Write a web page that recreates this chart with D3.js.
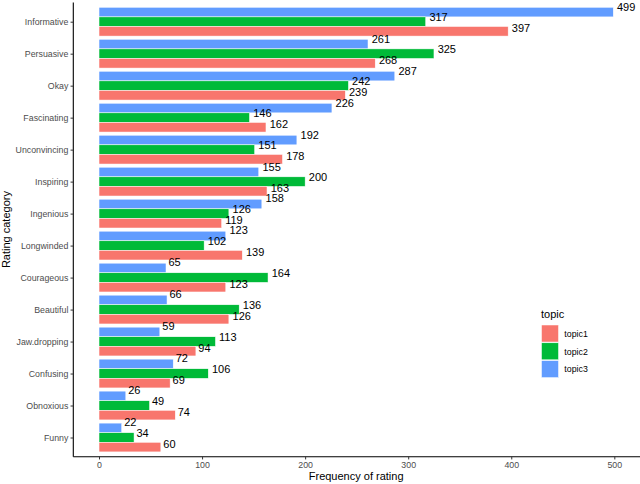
<!DOCTYPE html>
<html>
<head>
<meta charset="utf-8">
<script src="https://cdn.jsdelivr.net/npm/d3@7"></script>
<style>
  body { margin: 0; background: #fff; }
  svg { display: block; font-family: "Liberation Sans", Arial, sans-serif; }
</style>
</head>
<body>
<div id="chart"></div>
<script>
// data
const categories = ["Informative", "Persuasive", "Okay", "Fascinating", "Unconvincing", "Inspiring",
  "Ingenious", "Longwinded", "Courageous", "Beautiful", "Jaw.dropping", "Confusing", "Obnoxious", "Funny"]
const topics = ["topic1", "topic2", "topic3"]
const topic1 = [397, 268, 239, 162, 178, 163, 119, 139, 123, 126, 94, 69, 74, 60]
const topic2 = [317, 325, 242, 146, 151, 200, 126, 102, 164, 136, 113, 106, 49, 34]
const topic3 = [499, 261, 287, 226, 192, 155, 158, 123, 65, 66, 59, 72, 26, 22]
const xTicks = [0, 100, 200, 300, 400, 500]

const colors = { topic1: "#F8766D", topic2: "#00BA38", topic3: "#619CFF" }
const seriesVals = { topic1, topic2, topic3 }

// order of bars inside a group, top to bottom
const barOrder = ["topic3", "topic2", "topic1"]

const rows = []
categories.forEach((c, i) => {
  barOrder.forEach((t, k) => rows.push({ cat: c, topic: t, k: k, value: seriesVals[t][i] }))
})

const w = 640
const h = 484
const pLeft = 73.3, pRight = 639, pTop = 2.5, pBottom = 456.7

const svg = d3.select("#chart")
  .append("svg")
  .attr("width", w)
  .attr("height", h)

const maxV = d3.max(rows, d => d.value)
const x = d3.scaleLinear()
  .domain([-0.05 * maxV, maxV * 1.05])
  .range([pLeft, pRight])

const y = d3.scalePoint()
  .domain(categories)
  .range([pTop, pBottom])
  .padding(0.6)

const step = y.step()
const barH = step * 0.3

// bars
svg.append("g")
  .selectAll("rect")
  .data(rows)
  .join("rect")
  .attr("x", x(0))
  .attr("y", d => y(d.cat) - step * 0.45 + d.k * barH)
  .attr("width", d => x(d.value) - x(0))
  .attr("height", barH)
  .attr("fill", d => colors[d.topic])
  .attr("stroke", "white")
  .attr("stroke-width", 0.5)

// value labels (dodged by a full band, sitting just above their slot)
const labels = svg.append("g")
  .selectAll("text")
  .data(rows)
  .join("text")
  .attr("x", d => x(d.value))
  .attr("y", d => y(d.cat) + (d.k - 1) * step / 3 - 0.45)
  .attr("font-size", "11px")
  .attr("fill", "black")
  .text(d => d.value)

labels.attr("dx", function () { return this.getComputedTextLength() * 0.2 })

// x axis
const xAxis = svg.append("g")
  .attr("transform", `translate(0,${pBottom})`)
  .call(d3.axisBottom(x).tickValues(xTicks).tickSize(2.75).tickPadding(2.5))
xAxis.select(".domain").attr("d", `M${pLeft},0H${pRight + 1}`).attr("stroke", "black").attr("stroke-width", 1.1)
xAxis.selectAll(".tick line").attr("stroke", "#333333")
xAxis.selectAll(".tick text").attr("fill", "#4D4D4D").attr("font-size", "8.8px")
  .attr("font-family", "Liberation Sans, Arial, sans-serif")

// y axis
const yAxis = svg.append("g")
  .attr("transform", `translate(${pLeft},0)`)
  .call(d3.axisLeft(y).tickSize(2.75).tickPadding(2.2))
yAxis.select(".domain").attr("d", `M0,${pTop}V${pBottom}`).attr("stroke", "black").attr("stroke-width", 1.1)
yAxis.selectAll(".tick line").attr("stroke", "#333333")
yAxis.selectAll(".tick text").attr("fill", "#4D4D4D").attr("font-size", "8.8px")
  .attr("font-family", "Liberation Sans, Arial, sans-serif")

// axis titles
svg.append("text")
  .attr("x", (pLeft + pRight) / 2)
  .attr("y", 480)
  .attr("text-anchor", "middle")
  .attr("font-size", "11px")
  .text("Frequency of rating")

svg.append("text")
  .attr("transform", `translate(10,${(pTop + pBottom) / 2}) rotate(-90)`)
  .attr("text-anchor", "middle")
  .attr("font-size", "11px")
  .text("Rating category")

// legend
const legend = svg.append("g")
  .attr("transform", "translate(541,0)")

legend.append("text")
  .attr("x", 0)
  .attr("y", 318)
  .attr("font-size", "11px")
  .text("topic")

const legItem = legend.selectAll(".legend-item")
  .data(topics)
  .join("g")
  .attr("class", "legend-item")
  .attr("transform", (d, i) => `translate(0,${325 + i * 17.8})`)

legItem.append("rect")
  .attr("x", 0.5)
  .attr("y", 0)
  .attr("width", 17)
  .attr("height", 17)
  .attr("fill", d => colors[d])
  .attr("stroke", "white")
  .attr("stroke-width", 0.5)

legItem.append("text")
  .attr("x", 23.3)
  .attr("y", 8.7)
  .attr("dy", "0.35em")
  .attr("font-size", "8.8px")
  .attr("fill", "black")
  .text(d => d)
</script>
</body>
</html>
